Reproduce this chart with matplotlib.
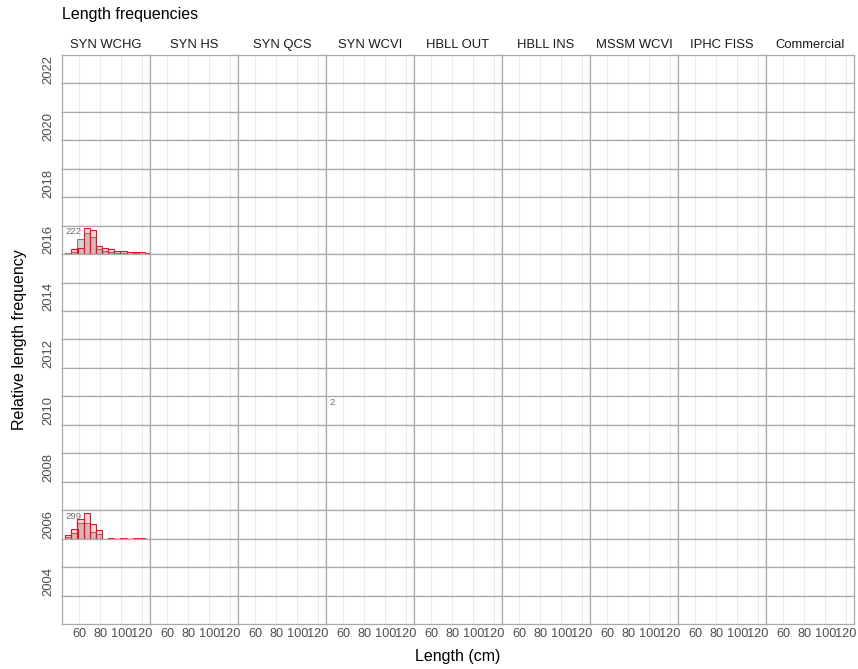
import matplotlib
matplotlib.use("Agg")
import matplotlib.pyplot as plt

plt.rcParams['font.family'] = ['Liberation Sans', 'DejaVu Sans']

surveys = ['SYN WCHG', 'SYN HS', 'SYN QCS', 'SYN WCVI', 'HBLL OUT',
           'HBLL INS', 'MSSM WCVI', 'IPHC FISS', 'Commercial']
years = list(range(2022, 2002, -1))

# bin mid-points (cm)
bin_mids = [49.5, 55.4, 61.2, 67.1, 72.9, 78.8, 84.7,
            90.5, 96.4, 102.2, 108.1, 113.9, 119.8, 125.7]
bin_width = 5.85

# relative frequencies (max = 1 in each panel)
fem_wchg_2016 = [0.0, 0.18, 0.25, 1.0, 0.92, 0.30, 0.22, 0.21, 0.12, 0.12, 0.07, 0.09, 0.09, 0.05]
male_wchg_2016 = [0.06, 0.10, 0.59, 0.83, 0.66, 0.18, 0.12, 0.08, 0.05, 0.04, 0.02, 0.03, 0.02, 0.0]
fem_wchg_2006 = [0.15, 0.36, 0.77, 1.0, 0.58, 0.34, 0.0, 0.03, 0.0, 0.02, 0.0, 0.02, 0.02, 0.0]
male_wchg_2006 = [0.08, 0.20, 0.59, 0.59, 0.25, 0.17, 0.0, 0.01, 0.0, 0.0, 0.0, 0.0, 0.0, 0.0]

hists = {
    ('SYN WCHG', 2016): (fem_wchg_2016, male_wchg_2016),
    ('SYN WCHG', 2006): (fem_wchg_2006, male_wchg_2006),
}
counts = {('SYN WCHG', 2016): '222', ('SYN WCHG', 2006): '299',
          ('SYN WCVI', 2010): '2'}

x_ticks = [60, 80, 100, 120]
border = '#aaaaaa'

fig = plt.figure(figsize=(8.58, 6.69), dpi=100)
gs = fig.add_gridspec(len(years), len(surveys), left=62/858, right=854/858,
                      top=1-55/669, bottom=1-624/669, hspace=0, wspace=0)

for i, yr in enumerate(years):
    for j, sv in enumerate(surveys):
        ax = fig.add_subplot(gs[i, j])
        ax.set_xlim(43.5, 127.5)
        ax.set_ylim(0, 1.1)
        ax.set_xticks(x_ticks)
        ax.set_yticks([])
        ax.grid(axis='x', color='#ebebeb', lw=0.8)
        ax.set_axisbelow(True)
        ax.tick_params(length=0, labelsize=9.2, labelcolor='#4d4d4d', pad=3)
        if i < len(years) - 1:
            ax.tick_params(labelbottom=False)
        for s in ax.spines.values():
            s.set_color(border)
            s.set_linewidth(0.9)
        if (sv, yr) in hists:
            fem, male = hists[(sv, yr)]
            ax.bar(bin_mids, male, width=bin_width, color=(0.5, 0.5, 0.5, 0.3),
                   edgecolor='#808080', lw=0.8)
            ax.bar(bin_mids, fem, width=bin_width, color=(1, 0, 0, 0.16),
                   edgecolor='#e8102a', lw=0.8)
        if (sv, yr) in counts:
            ax.text(0.04, 0.94, counts[(sv, yr)], transform=ax.transAxes,
                    ha='left', va='top', fontsize=6.8, color='#707070')
        if i == 0:
            ax.set_title(sv, fontsize=9.4, color='#1a1a1a', pad=5)
        if j == 0 and yr % 2 == 0:
            ax.text(-0.15, 0.5, str(yr), transform=ax.transAxes, rotation=90,
                    ha='center', va='center', fontsize=9.4, color='#4d4d4d')

fig.text(62/858, 1-15/669, 'Length frequencies', ha='left', va='center',
         fontsize=11.5, color='black')
fig.text(458/858, 1-657/669, 'Length (cm)', ha='center', va='center',
         fontsize=11.5)
fig.text(20/858, 1-340/669, 'Relative length frequency', ha='center',
         va='center', rotation=90, fontsize=11.5)

fig.savefig('out.png', dpi=100)
